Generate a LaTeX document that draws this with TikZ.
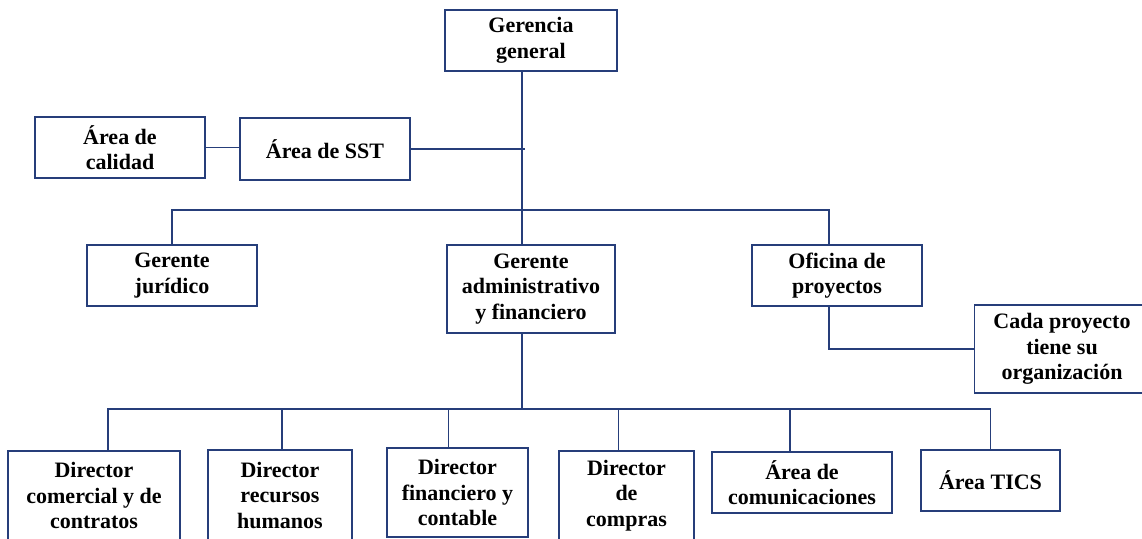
\documentclass[tikz,border=0pt]{standalone}
\usepackage{fontspec}
\setmainfont{Liberation Serif}
\definecolor{orgblue}{RGB}{38,62,122}
\begin{document}
\begin{tikzpicture}[x=1pt,y=-1pt,
  unit/.style={draw=orgblue,line width=1.5pt,align=center,inner sep=4pt,
    font=\fontsize{22}{25.5}\selectfont\bfseries},
  conn/.style={orgblue,line width=1.5pt}]
  \useasboundingbox (0,0) rectangle (1142,538);
  \clip (0,0) rectangle (1142,538);
  % top levels
  \node[unit,minimum width=172pt,minimum height=61pt] (gg) at (531,40.5) {Gerencia\\general};
  \node[unit,minimum width=170pt,minimum height=61pt] (cal) at (120,147.5) {Área de\\calidad};
  \node[unit,minimum width=170pt,minimum height=62pt] (sst) at (325,149) {Área de SST};
  \node[unit,minimum width=170pt,minimum height=61pt] (gj) at (172,275.5) {Gerente\\jurídico};
  \node[unit,minimum width=168pt,minimum height=88pt] (gaf) at (531,289) {Gerente\\administrativo\\y financiero};
  \node[unit,minimum width=170pt,minimum height=61pt] (op) at (837,275.5) {Oficina de\\proyectos};
  \node[unit,minimum width=175pt,minimum height=88pt] (cp) at (1062,349) {Cada proyecto\\tiene su\\organización};
  % directors, cut by the lower edge
  \node[unit,minimum width=172pt,minimum height=89pt] (dcc) at (94,495.5) {Director\\comercial y de\\contratos};
  \node[unit,minimum width=144pt,minimum height=90pt] (drh) at (280,495) {Director\\recursos\\humanos};
  \node[unit,minimum width=141pt,minimum height=89pt] (dfc) at (457.5,492.5) {Director\\financiero y\\contable};
  \node[unit,minimum width=135pt,minimum height=89pt] (dco) at (626.5,495.5) {Director\\de\\compras};
  \node[unit,minimum width=180pt,minimum height=61pt] (acom) at (802,482.5) {Área de\\comunicaciones};
  \node[unit,minimum width=139pt,minimum height=61pt] (atic) at (990.5,480.5) {Área TICS};
  % connectors
  \coordinate (top) at (522,210);
  \coordinate (bot) at (522,409);
  \draw[conn] (gg.south -| top) -- (gaf.north -| top);
  \draw[conn] (sst.east) -- ([xshift=3pt]sst.east -| top);
  \draw[conn] (cal.east) -- (cal.east -| sst.west);
  \draw[conn] (gj.north) |- (top) -| ([xshift=-8pt]op.north);
  \draw[conn] ([xshift=-8pt]op.south) |- (cp.west);
  \draw[conn] (gaf.south -| bot) -- (bot);
  \draw[conn] ([xshift=14pt]dcc.north) |- (bot) -| (atic.north);
  \foreach \n/\dx in {drh/2,dfc/-9,dco/-8,acom/-12}
    \draw[conn] ([xshift=\dx pt]\n.north) -- ([xshift=\dx pt]\n.north |- bot);
\end{tikzpicture}
\end{document}
